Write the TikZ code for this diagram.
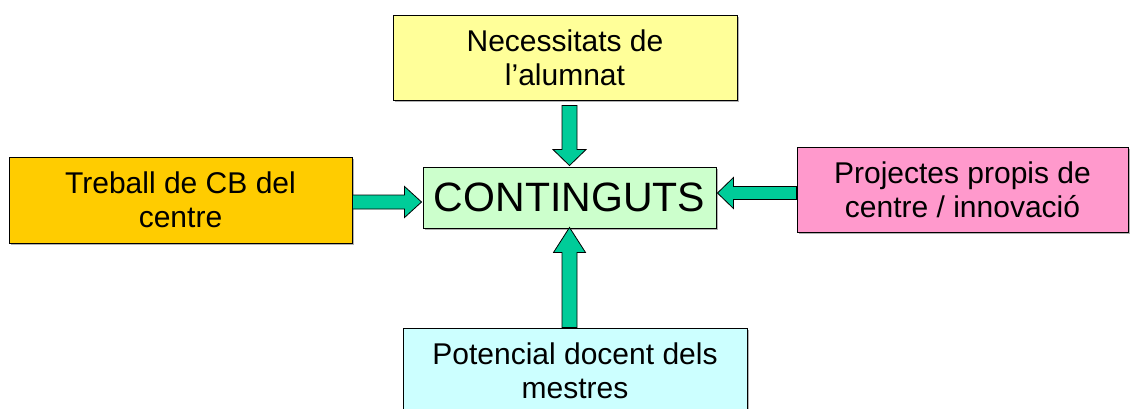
\documentclass[tikz,border=0pt]{standalone}
\usepackage{fontspec}
\setmainfont{Liberation Sans}
\usetikzlibrary{calc,shadows}
\definecolor{cyel}{RGB}{255,255,153}
\definecolor{corg}{RGB}{255,204,0}
\definecolor{cgrn}{RGB}{204,255,204}
\definecolor{cpnk}{RGB}{255,153,204}
\definecolor{ccyn}{RGB}{204,255,255}
\definecolor{carr}{RGB}{0,204,153}
\begin{document}
\begin{tikzpicture}[x=1pt,y=-1pt,
  box/.style={draw=black, line width=0.9pt, align=center, inner sep=0pt,
    font=\fontsize{30}{34}\selectfont,
    drop shadow={shadow xshift=1.5pt, shadow yshift=-1.5pt, fill=black!30, opacity=1}},
  flow/.style={draw=black, line width=0.8pt, fill=carr, line join=miter}]
\useasboundingbox (0,0) rectangle (1130,408);
\clip (0,0) rectangle (1130,408);
\node[box, fill=cyel, minimum width=344pt, minimum height=85pt] (top) at (565,57.5) {Necessitats de\\l’alumnat};
\node[box, fill=corg, minimum width=343pt, minimum height=86pt] (left) at (180.5,200) {Treball de CB del\\centre};
\node[box, fill=cgrn, minimum width=293pt, minimum height=61pt, font=\fontsize{41}{48}\selectfont] (center) at (569.5,197.5) {CONTINGUTS};
\node[box, fill=cpnk, minimum width=331pt, minimum height=85pt] (right) at (962.5,189.5) {Projectes propis de\\centre / innovació};
\node[box, fill=ccyn, minimum width=344pt, minimum height=86pt] (bottom) at (575,371) {Potencial docent dels\\mestres};
% top arrow (down)
\coordinate (ta) at ($(center.north |- top.south)+(0,5)$);
\coordinate (tb) at ($(center.north)+(0,-1)$);
\draw[flow] ($(ta)+(-7.5,0)$) -- ($(tb)+(-7.5,-16)$) -- ($(tb)+(-16.5,-16)$) -- (tb)
  -- ($(tb)+(16.5,-16)$) -- ($(tb)+(7.5,-16)$) -- ($(ta)+(7.5,0)$) -- cycle;
% bottom arrow (up)
\coordinate (ba) at (center.south |- bottom.north);
\coordinate (bb) at ($(center.south)+(0,-1)$);
\draw[flow] ($(ba)+(-7.5,0)$) -- ($(bb)+(-7.5,25)$) -- ($(bb)+(-16,25)$) -- (bb)
  -- ($(bb)+(16,25)$) -- ($(bb)+(7.5,25)$) -- ($(ba)+(7.5,0)$) -- cycle;
% left arrow (right)
\coordinate (la) at ($(left.east)+(0,2)$);
\coordinate (lb) at ($(center.west |- la)+(-1,0)$);
\draw[flow] ($(la)+(0,-7)$) -- ($(lb)+(-17,-7)$) -- ($(lb)+(-17,-15.5)$) -- (lb)
  -- ($(lb)+(-17,15.5)$) -- ($(lb)+(-17,7)$) -- ($(la)+(0,7)$) -- cycle;
% right arrow (left)
\coordinate (ra) at ($(right.west)+(0,3.5)$);
\coordinate (rb) at ($(center.east |- ra)+(1,0)$);
\draw[flow] ($(ra)+(0,-6.5)$) -- ($(rb)+(16,-6.5)$) -- ($(rb)+(16,-15.5)$) -- (rb)
  -- ($(rb)+(16,15.5)$) -- ($(rb)+(16,6.5)$) -- ($(ra)+(0,6.5)$) -- cycle;
\end{tikzpicture}
\end{document}
